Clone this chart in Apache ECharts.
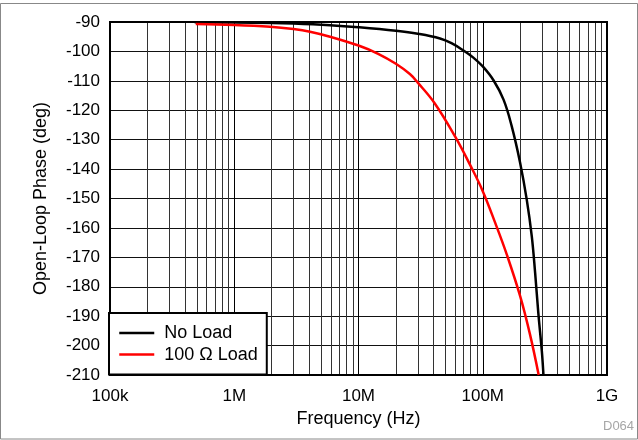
<!DOCTYPE html>
<html>
<head>
<meta charset="utf-8">
<script src="https://cdn.jsdelivr.net/npm/echarts@6/dist/echarts.min.js"></script>
<style>
html,body{margin:0;padding:0;background:#fff;}
#c{width:638px;height:440px;}
</style>
</head>
<body>
<div id="c"></div>
<script>
// Data
var freqNoLoad = [4.8e5, 1e6, 2e6, 3e6, 5.9e6, 1e7, 2e7, 3e7, 4.53e7, 5.6e7, 7e7, 8.4e7, 1e8, 1.22e8, 1.47e8, 1.71e8, 2e8, 2.26e8, 2.48e8, 2.64e8, 2.8e8, 2.99e8, 3.08e8];
var phaseNoLoad = [-90.1, -90.2, -90.3, -90.5, -91.1, -91.8, -93.0, -94.0, -95.6, -97.2, -99.7, -102.1, -105.1, -109.8, -116.4, -125.4, -137.9, -150.4, -162.8, -175.3, -188.9, -202.0, -210];
var freqLoad = [4.9e5, 1e6, 1.94e6, 3e6, 4.07e6, 5.9e6, 1e7, 1.44e7, 2e7, 2.59e7, 3e7, 4.1e7, 6e7, 8e7, 1e8, 1.26e8, 1.56e8, 2e8, 2.4e8, 2.82e8];
var phaseLoad = [-90.7, -91.0, -91.6, -92.4, -93.3, -95.0, -98.0, -100.8, -104.2, -107.7, -110.6, -117.6, -129.0, -139.0, -147.5, -158.3, -169.0, -183.2, -196.2, -210];
var xTickValues = [1e5, 1e6, 1e7, 1e8, 1e9];
var xTickLabels = ['100k', '1M', '10M', '100M', '1G'];
var seriesNames = ['No Load', '100 \u03A9 Load'];
var seriesColors = ['#000000', '#ff0000'];

function pairs(xs, ys) {
  return xs.map(function (x, i) { return [x, ys[i]]; });
}

var FONT = '"Liberation Sans", Arial, sans-serif';
var chart = echarts.init(document.getElementById('c'), null, {renderer: 'canvas'});
chart.setOption({
  animation: false,
  backgroundColor: '#fff',
  graphic: [
    {type: 'rect', shape: {x: 0.5, y: 3.5, width: 637, height: 435.5}, style: {fill: 'none', stroke: '#888', lineWidth: 1}, z: -10},
    {type: 'text', left: 603, top: 420, style: {text: 'D064', fill: '#a6a6a6', font: '13px ' + FONT}}
  ],
  grid: {left: 110, right: 31, top: 22, bottom: 65, show: true, borderColor: '#000', borderWidth: 2, backgroundColor: 'transparent', z: 3},
  legend: {
    left: 109, top: 313, orient: 'vertical',
    backgroundColor: '#fff', borderColor: '#000', borderWidth: 2,
    padding: [11, 9, 11, 9],
    itemWidth: 35, itemHeight: 17, itemGap: 3.6,
    itemStyle: {opacity: 0},
    lineStyle: {width: 2.5},
    textStyle: {fontSize: 18, fontFamily: FONT, color: '#000', padding: [0, 0, 0, 5]},
    data: seriesNames,
    z: 10
  },
  xAxis: {
    type: 'log', logBase: 10, min: 1e5, max: 1e9,
    name: 'Frequency (Hz)', nameLocation: 'middle', nameGap: 33,
    nameTextStyle: {fontSize: 18, fontFamily: FONT, color: '#000'},
    axisLine: {show: false}, axisTick: {show: false},
    axisLabel: {
      fontSize: 17, fontFamily: FONT, color: '#000', margin: 13,
      formatter: function (v) {
        for (var i = 0; i < xTickValues.length; i++) {
          if (Math.abs(Math.log10(v) - Math.log10(xTickValues[i])) < 1e-6) return xTickLabels[i];
        }
        return '';
      }
    },
    splitLine: {show: true, lineStyle: {color: '#000', width: 1}},
    minorTick: {show: false, splitNumber: 9},
    minorSplitLine: {show: true, lineStyle: {color: '#333', width: 1}}
  },
  yAxis: {
    type: 'value', min: -210, max: -90, interval: 10,
    name: 'Open-Loop Phase (deg)', nameLocation: 'middle', nameGap: 60,
    nameTextStyle: {fontSize: 18, fontFamily: FONT, color: '#000'},
    axisLine: {show: false}, axisTick: {show: false},
    axisLabel: {fontSize: 17, fontFamily: FONT, color: '#000', margin: 10},
    splitLine: {show: true, lineStyle: {color: '#111', width: 1}}
  },
  series: [
    {name: seriesNames[0], type: 'line', data: pairs(freqNoLoad, phaseNoLoad), symbol: 'none', smooth: 0.4,
     lineStyle: {color: seriesColors[0], width: 2.5}, itemStyle: {color: seriesColors[0]}, z: 5},
    {name: seriesNames[1], type: 'line', data: pairs(freqLoad, phaseLoad), symbol: 'none', smooth: 0.4,
     lineStyle: {color: seriesColors[1], width: 2.5}, itemStyle: {color: seriesColors[1]}, z: 5}
  ]
});
</script>
</body>
</html>
